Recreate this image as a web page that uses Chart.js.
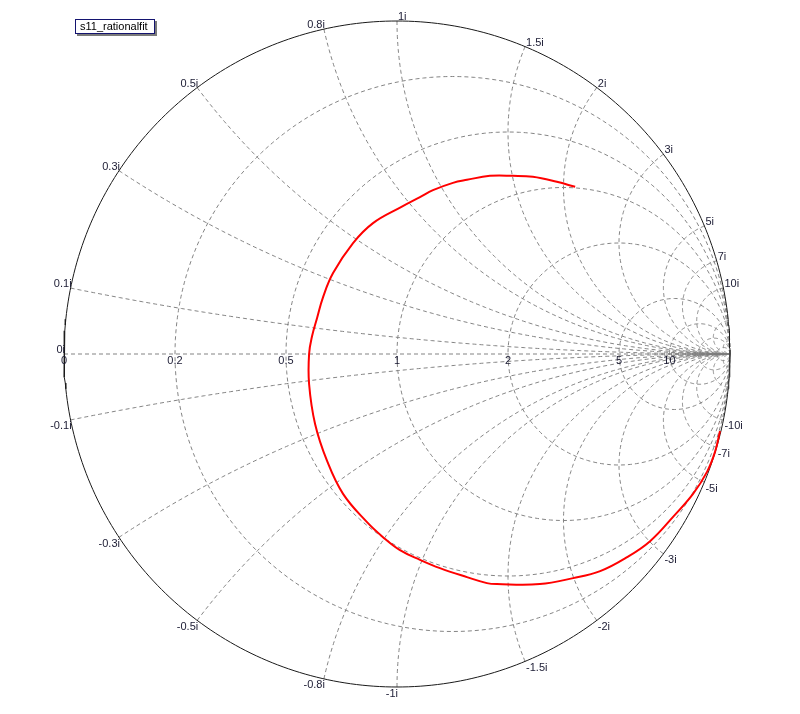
<!DOCTYPE html>
<html><head><meta charset="utf-8">
<script src="https://cdn.jsdelivr.net/npm/chart.js@4.4.0/dist/chart.umd.min.js"></script>
<style>html,body{margin:0;padding:0;background:#fff}#wrap{position:relative;width:800px;height:714px}</style>
</head><body><div id="wrap"><canvas id="c" width="800" height="714"></canvas></div>
<script>
// ---- data (reflection coefficient) ----
const seriesName = 's11_rationalfit';
const s11Re = [0.970,0.955,0.931,0.889,0.829,0.760,0.691,0.610,0.529,0.429,0.300,0.270,0.210,0.129,0.069,0.009,-0.042,-0.090,-0.162,-0.210,-0.246,-0.264,-0.264,-0.255,-0.240,-0.222,-0.192,-0.132,-0.072,0.012,0.069,0.108,0.168,0.210,0.279,0.348,0.408,0.480,0.535];
const s11Im = [-0.231,-0.294,-0.354,-0.420,-0.489,-0.562,-0.610,-0.652,-0.673,-0.691,-0.691,-0.688,-0.670,-0.643,-0.618,-0.589,-0.550,-0.505,-0.420,-0.321,-0.210,-0.090,0.000,0.054,0.108,0.171,0.243,0.333,0.393,0.441,0.471,0.492,0.514,0.523,0.535,0.535,0.532,0.517,0.502];

// ---- grid values and tick labels ----
const resistanceValues = [0.2, 0.5, 1, 2, 5, 10, 20, 50];
const reactanceValues = [0.1, 0.3, 0.5, 0.8, 1, 1.5, 2, 3, 5, 7, 10, 20, 50];
const resistanceTickValues = [0, 0.2, 0.5, 1, 2, 5, 10];
const resistanceTickLabels = ['0', '0.2', '0.5', '1', '2', '5', '10'];
const reactanceTickValues = [0, 0.1, 0.3, 0.5, 0.8, 1, 1.5, 2, 3, 5, 7, 10, -0.1, -0.3, -0.5, -0.8, -1, -1.5, -2, -3, -5, -7, -10];
const reactanceTickLabels = ['0i', '0.1i', '0.3i', '0.5i', '0.8i', '1i', '1.5i', '2i', '3i', '5i', '7i', '10i', '-0.1i', '-0.3i', '-0.5i', '-0.8i', '-1i', '-1.5i', '-2i', '-3i', '-5i', '-7i', '-10i'];

function gamma(r, x) {
  const den = (r + 1) * (r + 1) + x * x;
  return { x: (r * r + x * x - 1) / den, y: 2 * x / den };
}
function circlePts(cx, cy, R, a0, a1, n) {
  const pts = [];
  for (let i = 0; i <= n; i++) {
    const a = a0 + (a1 - a0) * i / n;
    pts.push({ x: cx + R * Math.cos(a), y: cy + R * Math.sin(a) });
  }
  return pts;
}
const GRID = 'rgba(125,125,125,0.95)';
const datasets = [];
datasets.push({ data: circlePts(0, 0, 1, 0, 2 * Math.PI, 360), borderColor: '#1a1a1a', borderWidth: 1, pointRadius: 0, showLine: true, order: 2 });
datasets.push({ data: [gamma(0, 0), gamma(1e9, 0)], borderColor: GRID, borderWidth: 1, borderDash: [4, 3], pointRadius: 0, showLine: true, order: 3 });
resistanceValues.forEach(r => {
  datasets.push({ data: circlePts(r / (1 + r), 0, 1 / (1 + r), 0, 2 * Math.PI, 240), borderColor: GRID, borderWidth: 1, borderDash: [4, 3], pointRadius: 0, showLine: true, order: 3 });
});
reactanceValues.forEach(xv => {
  [1, -1].forEach(s => {
    const x = xv * s;
    const g = gamma(0, x);
    const cy = 1 / x;
    let a0 = Math.atan2(g.y - cy, g.x - 1);
    let a1 = s > 0 ? 1.5 * Math.PI : 0.5 * Math.PI;
    if (s > 0) { if (a0 < 0) a0 += 2 * Math.PI; }
    else { if (a0 > 0) a0 -= 2 * Math.PI; a1 = -1.5 * Math.PI; }
    datasets.push({ data: circlePts(1, cy, Math.abs(cy), a0, a1, 200), borderColor: GRID, borderWidth: 1, borderDash: [4, 3], pointRadius: 0, showLine: true, order: 3 });
  });
});
datasets.push({ label: seriesName, data: s11Re.map((v, i) => ({ x: v, y: s11Im[i] })), borderColor: '#ff0000', borderWidth: 2, pointRadius: 0, showLine: true, tension: 0.4, order: 0 });

const FONT = '11px "Liberation Sans", Arial, sans-serif';
const labelsPlugin = {
  id: 'smithLabels',
  afterDraw(chart) {
    const ctx = chart.ctx, sx = chart.scales.x, sy = chart.scales.y;
    ctx.save();
    ctx.font = FONT;
    ctx.fillStyle = '#1b1b33';
    resistanceTickValues.forEach((r, i) => {
      const g = gamma(r, 0);
      ctx.textAlign = 'center'; ctx.textBaseline = 'top';
      ctx.fillText(resistanceTickLabels[i], sx.getPixelForValue(g.x), sy.getPixelForValue(0) + 1);
    });
    reactanceTickValues.forEach((x, i) => {
      const g = gamma(0, x);
      const px = sx.getPixelForValue(g.x), py = sy.getPixelForValue(g.y);
      if (x >= 0) {
        ctx.textAlign = x < 1 ? 'right' : 'left';
        ctx.textBaseline = 'alphabetic';
        ctx.fillText(reactanceTickLabels[i], px + 1, py - 1);
      } else {
        ctx.textAlign = x >= -1 ? 'right' : 'left';
        ctx.textBaseline = 'top';
        ctx.fillText(reactanceTickLabels[i], px + 1, py + 1);
      }
    });
    const lx = 75, ly = 19, lw = 80, lh = 15;
    ctx.fillStyle = '#7a7a7a';
    ctx.fillRect(lx + 2, ly + 2, lw, lh);
    ctx.fillStyle = '#ffffff';
    ctx.fillRect(lx, ly, lw, lh);
    ctx.strokeStyle = '#141470';
    ctx.lineWidth = 1;
    ctx.strokeRect(lx + 0.5, ly + 0.5, lw - 1, lh - 1);
    ctx.fillStyle = '#000000';
    ctx.textAlign = 'left'; ctx.textBaseline = 'middle';
    ctx.fillText(seriesName, lx + 5, ly + lh / 2 + 0.5);
    ctx.restore();
  }
};

const CX = 397, CY = 354, RAD = 333, W = 800, H = 714;
new Chart(document.getElementById('c'), {
  type: 'scatter',
  data: { datasets },
  options: {
    responsive: false,
    animation: false,
    events: [],
    layout: { padding: 0 },
    plugins: { legend: { display: false }, tooltip: { enabled: false } },
    scales: {
      x: { type: 'linear', display: false, min: -CX / RAD, max: (W - CX) / RAD },
      y: { type: 'linear', display: false, min: -(H - CY) / RAD, max: CY / RAD }
    }
  },
  plugins: [labelsPlugin]
});
</script></body></html>
